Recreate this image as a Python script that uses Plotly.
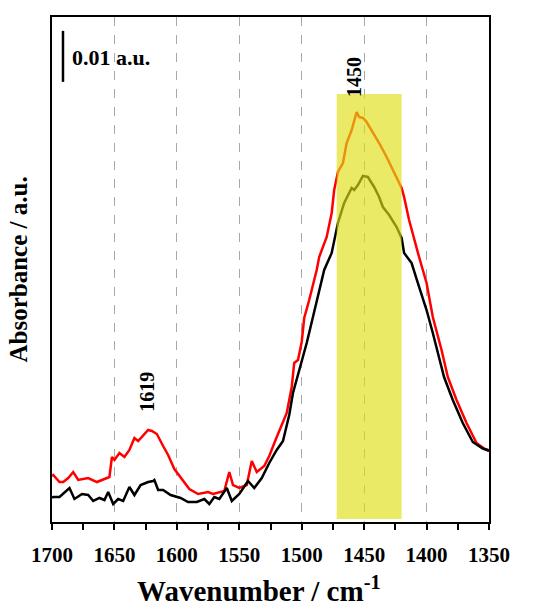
import plotly.graph_objects as go

# ---- data ----
red_wn = [1700, 1699, 1694, 1691, 1687, 1683, 1679, 1671, 1664, 1656, 1654, 1652, 1650, 1646, 1642,
          1638, 1634, 1631, 1627, 1623, 1620, 1616, 1611, 1607, 1602, 1596, 1590, 1583, 1578,
          1575, 1571, 1566, 1562, 1558, 1555, 1550, 1544, 1540, 1536, 1530, 1526, 1520, 1512,
          1508, 1506, 1503, 1500, 1498, 1494, 1488, 1486, 1480, 1476, 1474, 1471, 1467, 1464,
          1460, 1456, 1454, 1451, 1448, 1444, 1438, 1432, 1426, 1420, 1418, 1414, 1406, 1400,
          1395, 1388, 1383, 1376, 1368, 1360, 1354, 1351, 1350]
red_abs = [0.0090, 0.00922, 0.00784, 0.00784, 0.00863, 0.00980, 0.00824, 0.00863, 0.00784, 0.00863,
           0.00882, 0.01275, 0.01216, 0.01353, 0.01275, 0.01412, 0.01647, 0.01588, 0.01706,
           0.01804, 0.01784, 0.01725, 0.01490, 0.01314, 0.01039, 0.00843, 0.00647, 0.00549,
           0.00569, 0.00588, 0.00549, 0.00588, 0.00608, 0.00980, 0.00725, 0.00667, 0.00725,
           0.01196, 0.00980, 0.01098, 0.01294, 0.01667, 0.02137, 0.02647, 0.03118, 0.03176,
           0.03530, 0.04000, 0.04353, 0.04941, 0.05196, 0.05588, 0.06059, 0.06510, 0.06863,
           0.07039, 0.07431, 0.07686, 0.08039, 0.07941, 0.07922, 0.07843, 0.07686, 0.07431,
           0.07157, 0.06843, 0.06549, 0.06373, 0.05922, 0.05196, 0.04686, 0.04020, 0.03373,
           0.02843, 0.02392, 0.01941, 0.01549, 0.01440, 0.01412, 0.01392]

black_wn = [1700, 1699, 1694, 1686, 1682, 1676, 1671, 1667, 1662, 1658, 1655, 1651, 1647, 1643, 1638,
            1634, 1629, 1623, 1619, 1618, 1615, 1611, 1605, 1597, 1591, 1584, 1578, 1574, 1570,
            1566, 1560, 1556, 1550, 1543, 1538, 1532, 1526, 1520, 1515, 1510, 1507, 1502, 1496,
            1491, 1486, 1482, 1476, 1471, 1466, 1460, 1458, 1455, 1451, 1447, 1442, 1438, 1435,
            1430, 1424, 1420, 1418, 1412, 1406, 1400, 1395, 1390, 1386, 1379, 1371, 1363, 1355,
            1351, 1350]
black_abs = [0.0048, 0.00490, 0.00490, 0.00667, 0.00451, 0.00549, 0.00529, 0.00412, 0.00471, 0.00431,
             0.00588, 0.00353, 0.00451, 0.00412, 0.00686, 0.00529, 0.00725, 0.00784, 0.00804,
             0.00824, 0.00627, 0.00627, 0.00529, 0.00471, 0.00392, 0.00392, 0.00451, 0.00353,
             0.00490, 0.00451, 0.00667, 0.00412, 0.00549, 0.00804, 0.00667, 0.00863, 0.01157,
             0.01412, 0.01588, 0.02098, 0.02529, 0.02980, 0.03510, 0.04020, 0.04549, 0.04941,
             0.05275, 0.05863, 0.06255, 0.06549, 0.06510, 0.06608, 0.06784, 0.06765, 0.06569,
             0.06373, 0.06176, 0.06020, 0.05784, 0.05569, 0.05275, 0.05078, 0.04608, 0.04157,
             0.03706, 0.03235, 0.02843, 0.02392, 0.01941, 0.01569, 0.01440, 0.01412, 0.01392]

x_ticks = [1700, 1650, 1600, 1550, 1500, 1450, 1400, 1350]
x_tick_labels = ["1700", "1650", "1600", "1550", "1500", "1450", "1400", "1350"]

band_x = [1472, 1420]          # highlighted region
band_y = [0.0006, 0.0839]
peak_labels = ["1450", "1619"]
peak_label_x = [1458, 1624]
peak_label_y = [0.0873, 0.0255]
scale_bar_x = 1691.2
scale_bar_y = [0.0863, 0.0963]   # 0.01 a.u.

FONT = "Liberation Serif, Times New Roman, serif"

fig = go.Figure()
fig.add_trace(go.Scatter(x=red_wn, y=red_abs, mode="lines",
                         line=dict(color="#ff0000", width=2.5), showlegend=False))
fig.add_trace(go.Scatter(x=black_wn, y=black_abs, mode="lines",
                         line=dict(color="#000000", width=2.5), showlegend=False))

# highlighted band (semi-transparent, above the curves)
fig.add_shape(type="rect", xref="x", yref="y", x0=band_x[0], x1=band_x[1],
              y0=band_y[0], y1=band_y[1], fillcolor="rgb(222,222,20)", opacity=0.65,
              line=dict(width=0), layer="above")

# scale bar
fig.add_shape(type="line", xref="x", yref="y", x0=scale_bar_x, x1=scale_bar_x,
              y0=scale_bar_y[0], y1=scale_bar_y[1], line=dict(color="black", width=2.5))
fig.add_annotation(x=1685.5, y=(scale_bar_y[0] + scale_bar_y[1]) / 2 - 0.0003, xref="x", yref="y",
                   text="0.01 a.u.", showarrow=False, xanchor="left", yanchor="middle",
                   font=dict(family=FONT, size=22, color="black", weight="bold"))

for t, xx, yy in zip(peak_labels, peak_label_x, peak_label_y):
    fig.add_annotation(x=xx, y=yy, xref="x", yref="y", text=t, textangle=-90,
                       showarrow=False, xanchor="center", yanchor="middle",
                       font=dict(family=FONT, size=20, color="black", weight="bold"))

# axis titles
fig.add_annotation(x=0.5, y=0, xref="paper", yref="paper", yshift=-67, xshift=-12,
                   text="Wavenumber / cm<sup>-1</sup>", showarrow=False,
                   xanchor="center", yanchor="middle",
                   font=dict(family=FONT, size=29, color="black", weight="bold"))
fig.add_annotation(x=0, y=0.5, xref="paper", yref="paper", xshift=-34,
                   text="Absorbance / a.u.", textangle=-90, showarrow=False,
                   xanchor="center", yanchor="middle",
                   font=dict(family=FONT, size=25, color="black", weight="bold"))

fig.update_layout(
    width=544, height=607,
    margin=dict(l=52, r=55, t=17, b=85),
    paper_bgcolor="white", plot_bgcolor="white",
    xaxis=dict(range=[1700, 1350], tickmode="array", tickvals=x_ticks, ticktext=x_tick_labels,
               ticks="outside", ticklen=6, tickwidth=1.5, tickcolor="black",
               showline=True, linewidth=2, linecolor="black", mirror=True,
               showgrid=True, gridcolor="#a8a8a8", gridwidth=1, griddash="dash",
               zeroline=False, ticklabelstandoff=7,
               minor=dict(dtick=25, tick0=1675, ticks="outside", ticklen=6, tickwidth=1.5,
                          tickcolor="black", showgrid=False),
               tickfont=dict(family=FONT, size=21, color="black", weight="bold")),
    yaxis=dict(range=[0, 0.09902], showticklabels=False, ticks="", showgrid=False,
               zeroline=False, showline=True, linewidth=2, linecolor="black", mirror=True),
)

fig.write_html("out.html")
